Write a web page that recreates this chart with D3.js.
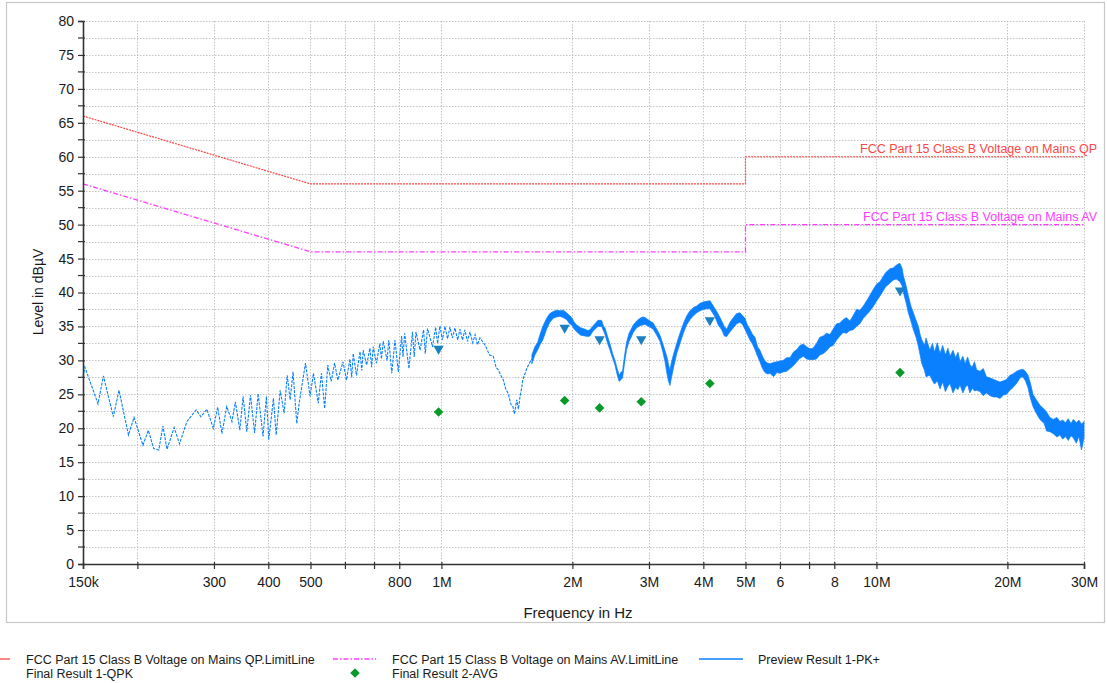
<!DOCTYPE html>
<html><head><meta charset="utf-8">
<script src="https://cdn.jsdelivr.net/npm/d3@7"></script>
<style>
html,body{margin:0;padding:0;background:#fff;}
svg{display:block;font-family:"Liberation Sans",Arial,sans-serif;}
</style></head>
<body><svg id="c" width="1107" height="683"></svg>
<script>
// ---------- DATA ----------
// frequency tick values (MHz) and their labels
const xTickValues = [0.15,0.2,0.3,0.4,0.5,0.6,0.7,0.8,1,2,3,4,5,6,7,8,10,20,30];
const xTickLabels = ["150k","","300","400","500","","","800","1M","2M","3M","4M","5M","6","","8","10M","20M","30M"];
const yTickValues = [0,5,10,15,20,25,30,35,40,45,50,55,60,65,70,75,80];

// limit lines (MHz, dBuV)
const limitFreq = [0.15, 0.5, 5, 5, 30];
const limitQP   = [66, 56, 56, 60, 60];
const limitAV   = [56, 46, 46, 50, 50];

// preview PK+ trace, low-frequency part (single line)
const pkLineFreq = [0.150,0.1515,0.1624,0.1671,0.1761,0.1815,0.1908,0.1965,0.206,0.212,0.218,0.224,0.229,0.234,0.243,0.250,0.260,0.273,0.280,0.289,0.299,0.306,0.313,0.321,0.330,0.336,0.344,0.350,0.357,0.364,0.372,0.379,0.389,0.396,0.401,0.411,0.417,0.426,0.435,0.442,0.449,0.456,0.465,0.471,0.487,0.499,0.508,0.521,0.530,0.539,0.548,0.558,0.568,0.578,0.594,0.605,0.616,0.622,0.627,0.638,0.650,0.656,0.661,0.673,0.685,0.691,0.697,0.709,0.722,0.728,0.735,0.750,0.757,0.769,0.782,0.796,0.810,0.816,0.823,0.842,0.858,0.866,0.874,0.893,0.910,0.918,0.929,0.954,0.970,0.980,0.992,1.005,1.019,1.033,1.046,1.060,1.074,1.090,1.103,1.118,1.132,1.148,1.163,1.180,1.195,1.210,1.226,1.259,1.290,1.316,1.335,1.351,1.370,1.388,1.405,1.425,1.445,1.460,1.472,1.490,1.503,1.516,1.530,1.538,1.571,1.590,1.614];
const pkLineLevel = [27.6,29.0,23.6,27.7,21.7,25.6,19.0,21.6,17.5,19.7,17.0,16.8,20.3,16.9,20.1,17.7,21.0,22.7,21.7,22.8,20.0,23.1,19.2,23.2,21.0,23.9,19.7,24.7,19.5,24.9,19.3,25.1,18.8,24.7,18.3,24.4,19.0,25.6,22.2,27.8,24.2,28.3,20.7,23.7,29.6,24.7,28.1,23.7,28.1,22.9,29.3,26.9,29.6,27.1,29.8,27.1,30.2,27.5,31.0,27.8,31.3,28.5,31.5,29.3,31.8,29.0,32.0,29.6,32.5,30.2,32.8,30.0,33.0,28.1,33.0,28.3,33.6,30.5,34.0,28.8,34.2,30.5,34.2,31.5,34.5,31.0,34.7,32.0,34.9,32.5,35.1,33.0,35.0,33.2,34.9,33.3,34.8,33.0,34.6,33.0,34.5,32.8,34.2,32.6,33.8,32.3,33.3,32.3,30.8,30.6,29.0,28.6,27.8,27.1,25.8,25.1,23.5,23.2,22.1,24.2,22.8,24.7,26.0,27.1,28.8,29.5,30.2];

// preview PK+ trace, dense part (lower / upper envelope of the band)
const pkBandFreq = [1.614,1.640,1.663,1.685,1.710,1.745,1.775,1.807,1.840,1.873,1.905,1.941,1.970,1.993,2.020,2.046,2.090,2.138,2.170,2.195,2.225,2.254,2.290,2.334,2.360,2.377,2.410,2.441,2.475,2.506,2.535,2.562,2.590,2.608,2.635,2.663,2.700,2.730,2.760,2.810,2.861,2.900,2.938,3.000,3.067,3.120,3.180,3.230,3.266,3.300,3.324,3.353,3.380,3.413,3.474,3.535,3.598,3.660,3.727,3.800,3.862,3.930,4.000,4.070,4.143,4.200,4.255,4.330,4.409,4.470,4.528,4.606,4.690,4.770,4.856,4.920,4.985,5.050,5.119,5.190,5.257,5.330,5.397,5.470,5.543,5.620,5.691,5.80,5.90,6.00,6.10,6.22,6.33,6.44,6.56,6.67,6.79,6.91,7.03,7.15,7.28,7.41,7.55,7.68,7.82,7.95,8.10,8.24,8.38,8.53,8.69,8.84,9.00,9.16,9.33,9.58,9.80,10.00,10.19,10.49,10.74,10.92,11.10,11.32,11.45,11.53,11.70,11.84,12.00,12.16,12.35,12.49,12.60,12.72,12.90,13.0,13.27,13.45,13.6,13.8,14.0,14.2,14.4,14.6,14.76,15.0,15.2,15.4,15.56,15.8,16.0,16.2,16.4,16.6,16.8,17.0,17.3,17.6,17.9,18.24,18.6,18.9,19.23,19.6,19.9,20.27,20.6,21.0,21.37,21.7,22.0,22.3,22.6,22.9,23.3,23.76,24.3,24.6,25.05,25.5,26.0,26.41,26.8,27.2,27.6,28.0,28.35,28.8,29.2,29.6,30.0];
const pkBandLow  = [29.5,30.8,31.5,32.3,33.0,34.6,35.6,36.2,36.4,36.5,36.3,36.0,35.4,35.2,34.6,34.2,33.7,33.6,33.5,33.6,34.2,34.6,35.0,35.0,34.3,33.8,32.5,31.5,30.3,29.3,27.9,26.9,27.2,27.4,29.5,31.5,32.8,33.4,34.1,34.8,35.1,35.2,35.3,35.0,34.6,33.8,32.8,31.2,29.8,28.0,27.0,26.3,27.5,28.8,31.0,32.5,34.0,35.2,36.0,36.6,37.0,37.3,37.5,37.6,37.6,37.0,36.4,35.2,34.5,33.6,33.5,34.2,34.8,35.4,35.6,35.3,34.6,33.8,33.0,32.4,31.6,30.6,29.8,28.8,28.2,28.0,28.1,27.6,28.2,28.1,28.3,28.4,28.8,29.2,29.8,30.3,30.6,30.2,30.1,30.1,30.2,30.8,31.0,31.4,32.0,32.2,33.0,33.6,34.1,34.0,34.4,34.5,35.0,35.4,36.2,37.0,37.8,38.7,39.5,40.8,41.4,41.8,42.0,41.6,41.0,40.0,38.5,37.0,35.8,34.5,33.3,32.0,30.8,29.5,28.5,27.6,27.8,27.0,26.5,27.0,25.8,26.8,25.4,26.2,26.6,25.2,26.0,25.7,26.4,25.2,26.0,26.4,25.2,25.9,25.5,25.6,25.4,24.8,25.2,24.8,24.6,24.6,24.4,24.9,25.0,25.6,26.0,26.6,27.4,27.6,27.0,26.0,24.4,23.2,22.2,21.3,20.7,19.6,19.5,19.2,18.7,19.0,18.4,18.8,18.2,18.9,18.6,17.8,18.8,16.8,18.6];
const pkBandHigh = [30.8,32.0,32.6,33.8,35.0,36.2,36.9,37.2,37.4,37.3,37.4,37.0,36.6,36.3,35.6,35.2,34.8,34.6,34.4,34.5,35.0,35.4,35.9,35.9,35.0,34.8,33.5,32.4,31.0,30.0,28.8,27.8,28.3,28.4,30.6,32.6,34.0,34.6,35.2,35.8,36.2,36.4,36.3,35.9,35.5,34.7,33.7,32.4,31.4,30.5,29.5,28.5,29.8,30.8,32.5,34.0,35.4,36.5,37.3,37.8,38.0,38.4,38.6,38.7,38.8,38.2,37.6,36.8,35.8,35.0,34.6,35.6,36.3,36.9,37.0,36.6,36.2,35.2,34.6,33.8,33.4,32.0,31.5,30.6,29.9,29.6,29.5,29.7,29.8,29.9,30.0,30.4,30.4,31.2,31.6,32.2,32.4,32.0,31.7,31.8,32.5,33.4,33.6,34.0,33.8,34.6,35.4,35.5,36.0,36.3,35.8,36.6,37.5,37.4,38.0,39.2,40.3,41.2,41.6,42.9,43.5,43.6,44.0,44.3,43.6,42.5,41.0,39.5,38.0,37.0,35.8,35.0,33.8,33.0,32.2,33.3,31.5,32.5,31.2,32.6,31.0,32.2,30.8,31.8,30.6,31.5,30.4,31.2,29.8,30.6,29.5,30.5,29.4,29.0,29.8,28.6,28.4,28.8,27.6,27.4,27.2,27.0,26.8,27.0,27.2,27.8,28.0,28.4,28.6,28.7,28.4,27.8,26.6,25.0,24.2,23.4,22.8,22.4,21.6,21.3,21.6,21.0,21.2,20.8,21.4,20.7,21.3,20.8,21.2,20.6,21.0];

// final results
const qpkFreq  = [0.985, 1.92, 2.31, 2.88, 4.14, 11.33];
const qpkLevel = [31.7, 34.8, 33.1, 33.1, 35.9, 40.3];
const avgFreq  = [0.985, 1.92, 2.31, 2.88, 4.14, 11.33];
const avgLevel = [22.4, 24.1, 23.0, 23.9, 26.6, 28.2];

const legendLabels = ["FCC Part 15 Class B Voltage on Mains QP.LimitLine","FCC Part 15 Class B Voltage on Mains AV.LimitLine","Preview Result 1-PK+","Final Result 1-QPK","Final Result 2-AVG"];
const limitLabels = ["FCC Part 15 Class B Voltage on Mains QP","FCC Part 15 Class B Voltage on Mains AV"];

// ---------- DRAW ----------
const svg = d3.select("#c");
const colQP = "#ff4646", colAV = "#ff3cff", colPK = "#0a80ff", colQPK = "#1a80c0", colAVG = "#0a9a2a";
const L = 83, R = 1084, T = 21, B = 564;
const x = d3.scaleLog().domain([0.15, 30]).range([L, R]);
const y = d3.scaleLinear().domain([0, 80]).range([B, T]);

// outer frame
svg.append("rect").attr("x",6.5).attr("y",2.5).attr("width",1098).attr("height",620)
  .attr("fill","none").attr("stroke","#c8c8c8").attr("stroke-width",1.2);

// grid
const grid = svg.append("g").attr("stroke","#c4c4c4").attr("stroke-width",1).attr("stroke-dasharray","1.5,1.5");
d3.range(0, 80.01, 2.5).forEach(v => {
  if (v === 0) return;
  grid.append("line").attr("x1",L).attr("x2",R).attr("y1",Math.round(y(v))+0.5).attr("y2",Math.round(y(v))+0.5);
});
xTickValues.forEach(v => {
  if (v === 0.15) return;
  grid.append("line").attr("x1",Math.round(x(v))+0.5).attr("x2",Math.round(x(v))+0.5).attr("y1",T).attr("y2",B);
});

// limit lines
const limQP = limitFreq.map((f,i)=>[f,limitQP[i]]);
const limAV = limitFreq.map((f,i)=>[f,limitAV[i]]);
const line = d3.line().x(d=>x(d[0])).y(d=>y(d[1]));
svg.append("path").attr("d",line(limQP)).attr("fill","none").attr("stroke",colQP).attr("stroke-width",1.2).attr("stroke-dasharray","2,1");
svg.append("path").attr("d",line(limAV)).attr("fill","none").attr("stroke",colAV).attr("stroke-width",1.3).attr("stroke-dasharray","5,2,1.5,2");

svg.append("text").attr("x",1097).attr("y",y(60)-3.5).attr("text-anchor","end").attr("font-size",12.5).attr("fill",colQP).text(limitLabels[0]);
svg.append("text").attr("x",1097).attr("y",y(50)-3.5).attr("text-anchor","end").attr("font-size",12.5).attr("fill",colAV).text(limitLabels[1]);

// preview trace
const pkLine = pkLineFreq.map((f,i)=>[f,pkLineLevel[i]]);
svg.append("path").attr("d",line(pkLine)).attr("fill","none").attr("stroke",colPK).attr("stroke-width",1.1)
  .attr("stroke-dasharray","3,1.2");
const band = pkBandFreq.map((f,i)=>[f,pkBandLow[i],pkBandHigh[i]]);
const area = d3.area().x(d=>x(d[0])).y0(d=>y(d[1])).y1(d=>y(d[2]));
svg.append("path").attr("d",area(band)).attr("fill",colPK).attr("stroke",colPK).attr("stroke-width",0.7).attr("stroke-linejoin","round");

// markers
const tri = d3.symbol().type(d3.symbolTriangle).size(46);
qpkFreq.forEach((f,i)=>{
  svg.append("path").attr("d",tri()).attr("transform",`translate(${x(f)},${y(qpkLevel[i])}) rotate(180)`).attr("fill",colQPK);
});
const dia = d3.symbol().type(d3.symbolSquare).size(46);
avgFreq.forEach((f,i)=>{
  svg.append("path").attr("d",dia()).attr("transform",`translate(${x(f)},${y(avgLevel[i])}) rotate(45)`).attr("fill",colAVG);
});

// axes
const xAxis = d3.axisBottom(x).tickValues(xTickValues).tickSize(5).tickPadding(8)
  .tickFormat((d,i)=>xTickLabels[i]);
const gx = svg.append("g").attr("transform",`translate(0,${B})`).call(xAxis);
gx.select(".domain").attr("stroke","#333").attr("stroke-width",1.6);
gx.selectAll(".tick line").attr("stroke","#333").attr("stroke-width",1.2).attr("y1",-2);
gx.selectAll("text").attr("font-size",14).attr("fill","#1a1a1a").attr("font-family","Liberation Sans, Arial, sans-serif");

const yAxis = d3.axisLeft(y).tickValues(yTickValues).tickSize(5).tickPadding(4);
const gy = svg.append("g").attr("transform",`translate(${L},0)`).call(yAxis);
gy.select(".domain").attr("stroke","#333").attr("stroke-width",1.6);
gy.selectAll(".tick line").attr("stroke","#333").attr("stroke-width",1.2).attr("x2",-5).attr("x1",2);
gy.selectAll("text").attr("font-size",14).attr("fill","#1a1a1a").attr("font-family","Liberation Sans, Arial, sans-serif");
// minor y ticks
d3.range(2.5, 80, 5).forEach(v=>{
  svg.append("line").attr("x1",L-5).attr("x2",L+2).attr("y1",y(v)).attr("y2",y(v)).attr("stroke","#333").attr("stroke-width",1.2);
});

// axis titles
svg.append("text").attr("x",578).attr("y",618).attr("text-anchor","middle").attr("font-size",15).attr("fill","#1a1a1a").text("Frequency in Hz");
svg.append("text").attr("transform","translate(43,292) rotate(-90)").attr("text-anchor","middle").attr("font-size",14).attr("fill","#1a1a1a").text("Level in dBµV");

// legend
const lg = svg.append("g").attr("font-size",12.5).attr("fill","#1a1a1a");
lg.append("line").attr("x1",-20).attr("x2",10).attr("y1",659).attr("y2",659).attr("stroke",colQP).attr("stroke-width",1.3);
lg.append("text").attr("x",26).attr("y",664).text(legendLabels[0]);
lg.append("line").attr("x1",333).attr("x2",376).attr("y1",659).attr("y2",659).attr("stroke",colAV).attr("stroke-width",1.3).attr("stroke-dasharray","5,2,1.5,2");
lg.append("text").attr("x",392).attr("y",664).text(legendLabels[1]);
lg.append("line").attr("x1",699).attr("x2",743).attr("y1",659).attr("y2",659).attr("stroke",colPK).attr("stroke-width",1.3);
lg.append("text").attr("x",758).attr("y",664).text(legendLabels[2]);
lg.append("text").attr("x",26).attr("y",678).text(legendLabels[3]);
lg.append("path").attr("d",dia()).attr("transform","translate(355,673) rotate(45)").attr("fill",colAVG);
lg.append("text").attr("x",392).attr("y",678).text(legendLabels[4]);
</script></body></html>
